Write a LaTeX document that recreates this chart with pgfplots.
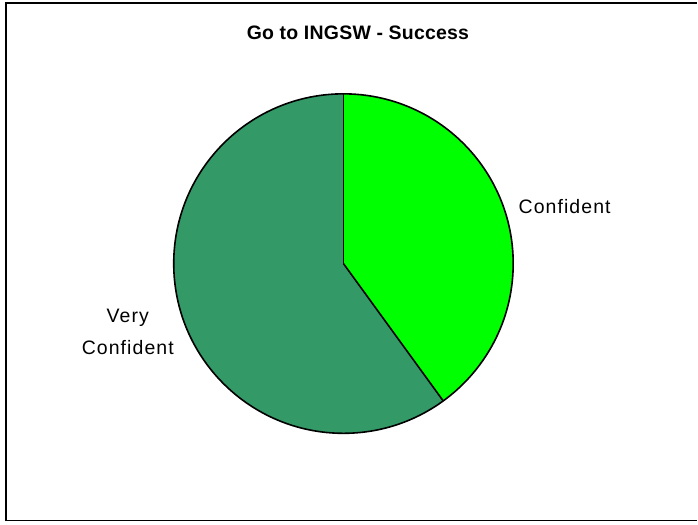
\documentclass[border=0pt]{standalone}
\usepackage{pgfplots}
\usepackage{pgfplotstable}
\pgfplotsset{compat=1.18}
\usepackage{fontspec}
\setmainfont{Liberation Sans}
\definecolor{confgreen}{HTML}{00FF00}
\definecolor{verygreen}{HTML}{339966}
\pgfplotstableread[col sep=comma]{
label,value
Confident,40
Very Confident,60
}\piedata
\begin{document}
\begin{tikzpicture}
\pgfplotstablegetelem{0}{value}\of\piedata \let\va\pgfplotsretval
\pgfplotstablegetelem{1}{value}\of\piedata \let\vb\pgfplotsretval
\pgfmathsetmacro\tot{\va+\vb}
\pgfmathsetmacro\angA{360*\va/\tot}
\pgfmathsetmacro\endA{90-\angA}
\begin{axis}[
  x=1pt, y=1pt, xmin=0, xmax=698, ymin=0, ymax=525,
  hide axis, clip=false, anchor=origin, at={(0,0)}
]
% frame
\draw[black, line width=2.2pt] (axis cs:6,3) -- (axis cs:6,522.5);
\draw[black, line width=2.2pt] (axis cs:5,522) -- (axis cs:698,522);
\draw[black, line width=1.2pt] (axis cs:5,4) -- (axis cs:698,4);
% pie
\fill[confgreen] (axis cs:344,261) -- ++(90:170pt) arc[start angle=90, end angle=\endA, radius=170pt] -- cycle;
\fill[verygreen] (axis cs:344,261) -- ++(\endA:170pt) arc[start angle=\endA, end angle=-270, radius=170pt] -- cycle;
\draw[black, line width=1.6pt] (axis cs:344,261) circle[radius=170pt];
\draw[black, line width=1.6pt] (axis cs:344,261) -- ++(90:170pt);
\draw[black, line width=1.6pt] (axis cs:344,261) -- ++(\endA:170pt);
% labels
\node[font=\fontsize{19.5}{23}\selectfont\bfseries\addfontfeature{LetterSpace=1.2}] at (axis cs:358.5,492) {Go to INGSW - Success};
\node[anchor=west, font=\fontsize{19.5}{23}\selectfont\addfontfeature{LetterSpace=5.5}] at (axis cs:516,318) {Confident};
\node[align=center, font=\fontsize{19.5}{32}\selectfont\addfontfeature{LetterSpace=5.5}] at (axis cs:128,193) {Very\\Confident};
\end{axis}
\useasboundingbox (0,0) rectangle (698pt,525pt);
\end{tikzpicture}
\end{document}
